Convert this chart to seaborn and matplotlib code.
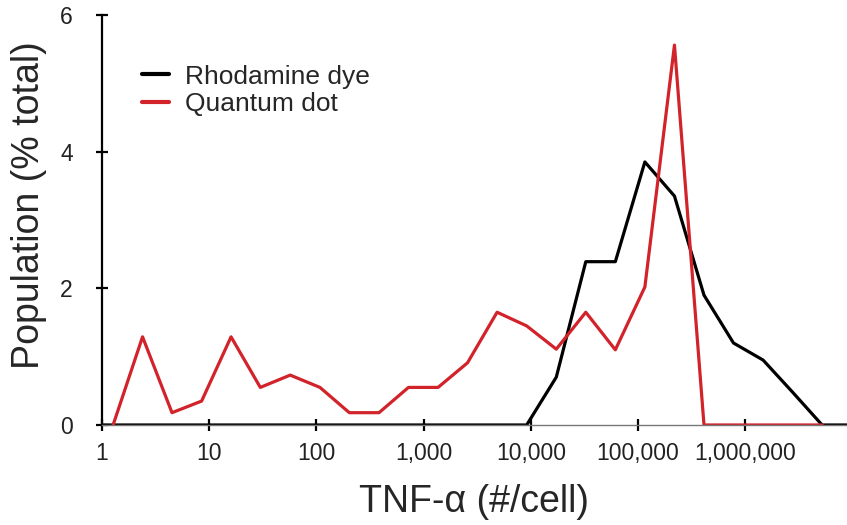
import matplotlib

matplotlib.use("Agg")
import matplotlib.pyplot as plt
import numpy as np
import pandas as pd
import seaborn as sns
from matplotlib.ticker import FixedLocator, FixedFormatter, NullLocator

# bin centres (molecules per cell)
bins = [1.27, 2.39, 4.5, 8.5, 16, 30, 57, 108, 203, 384, 723, 1365, 2570,
        4850, 9160, 17300, 32600, 61500, 116000, 219000, 413000, 778000,
        1470000, 2770000, 5220000]

quantum_dot = [0, 1.29, 0.18, 0.35, 1.29, 0.55, 0.73, 0.55, 0.18, 0.18, 0.55,
               0.55, 0.91, 1.65, 1.45, 1.11, 1.65, 1.10, 2.02, 5.56, 0, 0, 0,
               0, 0]

rhodamine_x = [1] + bins + [10000000]
rhodamine = [0, 0, 0, 0, 0, 0, 0, 0, 0, 0, 0, 0, 0, 0, 0, 0, 0.70, 2.39,
             2.39, 3.85, 3.35, 1.90, 1.20, 0.95, 0.48, 0, 0]

x_ticks = [1, 10, 100, 1000, 10000, 100000, 1000000]
x_tick_labels = ["1", "10", "100", "1,000", "10,000", "100,000", "1,000,000"]
y_ticks = [0, 2, 4, 6]

df = pd.concat([
    pd.DataFrame({"x": rhodamine_x, "y": rhodamine, "series": "Rhodamine dye"}),
    pd.DataFrame({"x": bins, "y": quantum_dot, "series": "Quantum dot"}),
])

sns.set_theme(style="white")
plt.rcParams["font.family"] = ["Liberation Sans", "DejaVu Sans"]

fig = plt.figure(figsize=(8.47, 5.25), dpi=100)
ax = fig.add_axes([0.1204, 0.1905, 0.8796, 0.7809])

sns.lineplot(data=df, x="x", y="y", hue="series",
             hue_order=["Rhodamine dye", "Quantum dot"],
             palette={"Rhodamine dye": "black", "Quantum dot": "#d2232a"},
             linewidth=2.3, ax=ax, estimator=None, sort=False)

ax.set_xscale("log")
ax.set_xlim(1, 10 ** 6.95)
ax.set_ylim(0, 6)
ax.xaxis.set_major_locator(FixedLocator(x_ticks))
ax.xaxis.set_major_formatter(FixedFormatter(x_tick_labels))
ax.xaxis.set_minor_locator(NullLocator())
ax.set_yticks(y_ticks)

for side in ["top", "right"]:
    ax.spines[side].set_visible(False)
ax.spines["left"].set_color("black")
ax.spines["left"].set_linewidth(1.6)
ax.spines["bottom"].set_color("#777777")
ax.spines["bottom"].set_linewidth(1.0)

ax.tick_params(axis="both", which="major", bottom=True, left=True,
               direction="inout", length=8, width=1.6, color="black",
               labelsize=16.5, labelcolor="#222222")
ax.tick_params(axis="y", pad=17)
ax.tick_params(axis="x", pad=8)

ax.set_xlabel("TNF-\u03b1 (#/cell)", fontsize=27, labelpad=14)
ax.set_ylabel("Population (% total)", fontsize=27)
ax.yaxis.set_label_coords(-0.074, 0.537)

leg = ax.legend(loc="upper left", bbox_to_anchor=(0.04, 0.905), frameon=False,
                fontsize=19, handlelength=1.0, handletextpad=0.6,
                labelspacing=0.15, borderaxespad=0)
for line in leg.get_lines():
    line.set_linewidth(3)

fig.savefig("out.png", dpi=100)
